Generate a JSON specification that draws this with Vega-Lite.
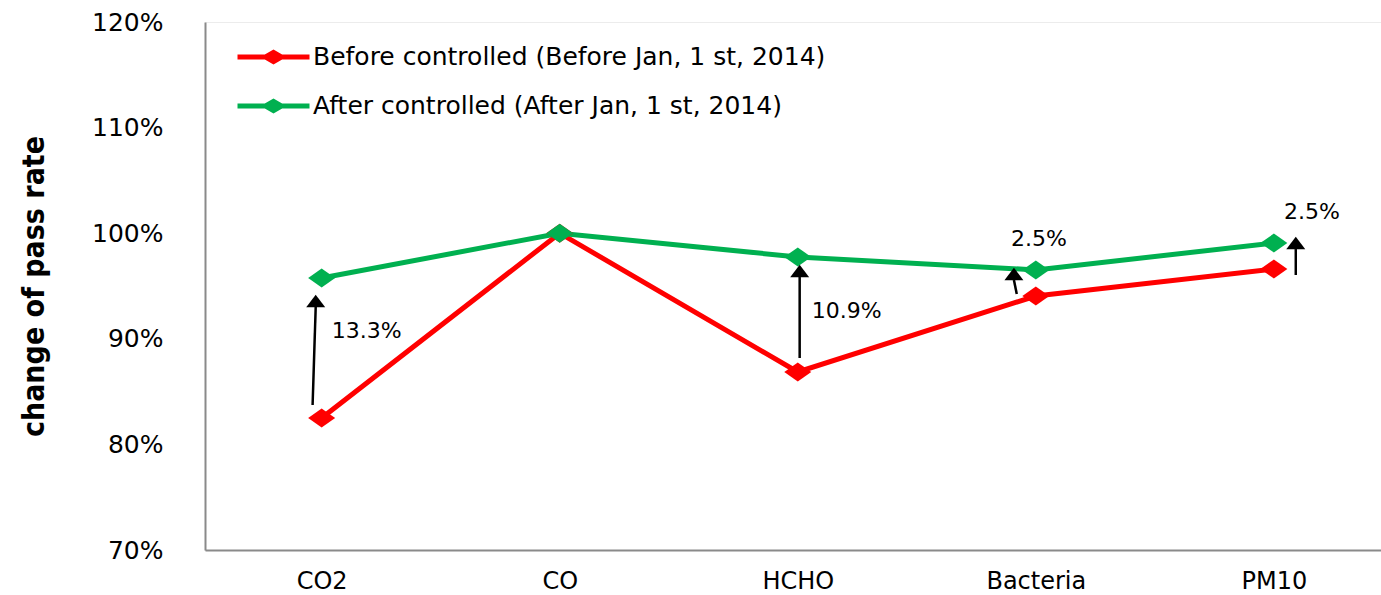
{
  "$schema": "https://vega.github.io/schema/vega-lite/v6.json",
  "autosize": {"type": "none"},
  "padding": {"left": 205, "top": 22, "right": 0, "bottom": 45},
  "width": 1176,
  "height": 528,
  "background": "white",
  "config": {
    "view": {"stroke": "#ececec", "strokeWidth": 1},
    "font": "DejaVu Sans"
  },
  "datasets": {
    "series": [
      {"cat": "CO2", "idx": 0, "series": "Before controlled (Before Jan, 1 st, 2014)", "value": 0.825},
      {"cat": "CO", "idx": 1, "series": "Before controlled (Before Jan, 1 st, 2014)", "value": 1.0},
      {"cat": "HCHO", "idx": 2, "series": "Before controlled (Before Jan, 1 st, 2014)", "value": 0.8686},
      {"cat": "Bacteria", "idx": 3, "series": "Before controlled (Before Jan, 1 st, 2014)", "value": 0.9405},
      {"cat": "PM10", "idx": 4, "series": "Before controlled (Before Jan, 1 st, 2014)", "value": 0.9661},
      {"cat": "CO2", "idx": 0, "series": "After controlled (After Jan, 1 st, 2014)", "value": 0.9576},
      {"cat": "CO", "idx": 1, "series": "After controlled (After Jan, 1 st, 2014)", "value": 1.0},
      {"cat": "HCHO", "idx": 2, "series": "After controlled (After Jan, 1 st, 2014)", "value": 0.9775},
      {"cat": "Bacteria", "idx": 3, "series": "After controlled (After Jan, 1 st, 2014)", "value": 0.9652},
      {"cat": "PM10", "idx": 4, "series": "After controlled (After Jan, 1 st, 2014)", "value": 0.9907}
    ],
    "shafts": [
      {"x": -0.038, "x2": -0.025, "y": 0.8373, "y2": 0.9301},
      {"x": 2.008, "x2": 2.008, "y": 0.8818, "y2": 0.9585},
      {"x": 2.92, "x2": 2.908, "y": 0.9424, "y2": 0.9557},
      {"x": 4.092, "x2": 4.092, "y": 0.9604, "y2": 0.985}
    ],
    "heads": [
      {"x": -0.025, "y": 0.9358},
      {"x": 2.008, "y": 0.9642},
      {"x": 2.908, "y": 0.9614},
      {"x": 4.092, "y": 0.9907}
    ],
    "notes": [
      {"x": 0.189, "y": 0.9074, "label": "13.3%"},
      {"x": 2.206, "y": 0.9263, "label": "10.9%"},
      {"x": 3.013, "y": 0.9945, "label": "2.5%"},
      {"x": 4.16, "y": 1.02, "label": "2.5%"}
    ]
  },
  "layer": [
    {
      "data": {"name": "series"},
      "mark": {
        "type": "line",
        "strokeWidth": 5,
        "point": {"filled": true, "shape": "M-1,0L0,-0.7L1,0L0,0.7Z", "size": 729, "opacity": 1}
      },
      "encoding": {
        "x": {
          "field": "idx", "type": "quantitative",
          "scale": {"domain": [-0.49, 4.45], "nice": false, "zero": false},
          "axis": {
            "values": [0, 1, 2, 3, 4],
            "labelExpr": "['CO2','CO','HCHO','Bacteria','PM10'][datum.value]",
            "title": null, "grid": false, "ticks": false,
            "domainColor": "#8a8a8a", "domainWidth": 2,
            "labelFontSize": 24, "labelColor": "#000000",
            "labelBaseline": "alphabetic", "labelPadding": 38,
            "labelFont": "DejaVu Sans"
          }
        },
        "y": {
          "field": "value", "type": "quantitative",
          "scale": {"domain": [0.7, 1.2], "nice": false, "zero": false},
          "axis": {
            "values": [0.7, 0.8, 0.9, 1.0, 1.1, 1.2],
            "format": ".0%",
            "title": "change of pass rate",
            "titleFont": "DejaVu Sans Condensed",
            "titleFontWeight": "bold",
            "titleFontSize": 30,
            "titleColor": "#000000",
            "titlePadding": 42,
            "grid": false, "ticks": false,
            "domainColor": "#8a8a8a", "domainWidth": 2,
            "labelFontSize": 25, "labelColor": "#000000", "labelPadding": 42,
            "labelFont": "DejaVu Sans"
          }
        },
        "color": {
          "field": "series", "type": "nominal",
          "scale": {
            "domain": ["Before controlled (Before Jan, 1 st, 2014)", "After controlled (After Jan, 1 st, 2014)"],
            "range": ["#ff0000", "#00b050"]
          },
          "legend": {
            "title": null,
            "orient": "none",
            "legendX": 30,
            "legendY": 20,
            "symbolType": "M-1,0L1,0M-0.22,0L0,-0.125L0.22,0L0,0.125Z",
            "symbolSize": 5184,
            "symbolStrokeWidth": 5,
            "labelFontSize": 25,
            "labelFont": "DejaVu Sans",
            "labelColor": "#000000",
            "labelOffset": 1,
            "labelLimit": 1000,
            "clipHeight": 30,
            "rowPadding": 19,
            "encode": {
              "symbols": {
                "update": {
                  "fill": {"scale": "color", "field": "value"},
                  "stroke": {"scale": "color", "field": "value"},
                  "opacity": {"value": 1}
                }
              }
            }
          }
        }
      }
    },
    {
      "data": {"name": "shafts"},
      "mark": {"type": "rule", "color": "#000000", "strokeWidth": 2.5},
      "encoding": {
        "x": {"field": "x", "type": "quantitative"},
        "x2": {"field": "x2"},
        "y": {"field": "y", "type": "quantitative"},
        "y2": {"field": "y2"}
      }
    },
    {
      "data": {"name": "heads"},
      "mark": {"type": "point", "filled": true, "color": "#000000", "opacity": 1, "shape": "M0,-0.65L1,0.65L-1,0.65Z", "size": 361},
      "encoding": {
        "x": {"field": "x", "type": "quantitative"},
        "y": {"field": "y", "type": "quantitative"}
      }
    },
    {
      "data": {"name": "notes"},
      "mark": {"type": "text", "fontSize": 22, "font": "DejaVu Sans", "color": "#000000", "align": "center", "baseline": "middle"},
      "encoding": {
        "x": {"field": "x", "type": "quantitative"},
        "y": {"field": "y", "type": "quantitative"},
        "text": {"field": "label"}
      }
    }
  ]
}
